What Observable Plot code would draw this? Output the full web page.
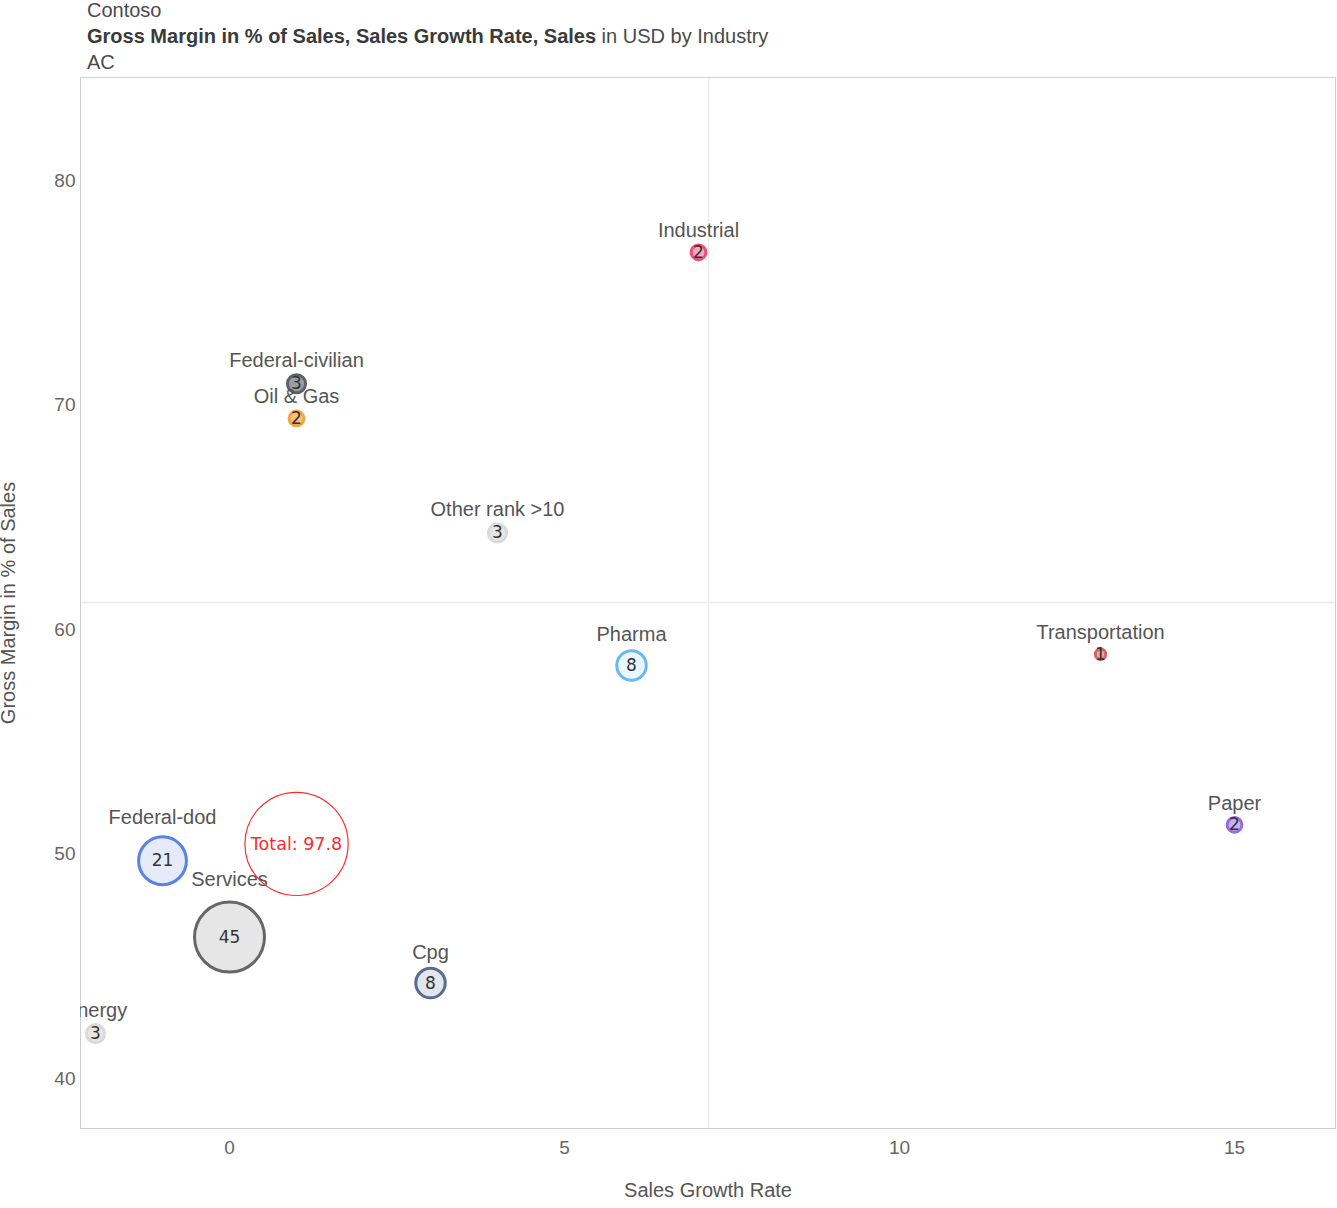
<!DOCTYPE html>
<html>
<head>
<meta charset="utf-8">
<script src="https://cdn.jsdelivr.net/npm/d3@7"></script>
<script src="https://cdn.jsdelivr.net/npm/@observablehq/plot@0.6"></script>
<style>
  body { margin: 0; background: #fff; font-family: "Liberation Sans", Arial, sans-serif; }
  #head { height: 75px; padding-left: 87px; color: #4a4a4a; font-size: 20px; overflow: visible; }
  #head .lines { transform: translateY(-3px); }
  #head .lines div { line-height: 26px; white-space: nowrap; }
  #head b { color: #3a3a3a; }
  #chart svg { display: block; }
</style>
</head>
<body>
<div id="head">
  <div class="lines">
    <div>Contoso</div>
    <div><b>Gross Margin in % of Sales, Sales Growth Rate, Sales</b> in USD by Industry</div>
    <div>AC</div>
  </div>
</div>
<div id="chart"></div>
<script>
// Industries: sales growth rate (x), gross margin in % of sales (y), sales in USD (bubble size)
const industries  = ["Industrial", "Federal-civilian", "Oil & Gas", "Other rank >10", "Pharma", "Transportation", "Paper", "Federal-dod", "Services", "Cpg", "Energy"];
const growthRate  = [7, 1, 1, 4, 6, 13, 15, -1, 0, 3, -2];
const grossMargin = [76.8, 70.95, 69.4, 64.3, 58.4, 58.9, 51.3, 49.7, 46.3, 44.25, 42.0];
const sales       = [2, 3, 2, 3, 8, 1, 2, 21, 45, 8, 3];
const strokeColors = ["#ee4f78", "#5c616c", "#f2a444", "#d9d9d9", "#6ab9f2", "#d46464", "#9a6ae4", "#5a83e2", "#666666", "#586c8c", "#d9d9d9"];
const fillColors   = ["#f7a9bc", "#9a9ea6", "#f6c27e", "#e6e6e6", "#eaf5fd", "#e6a9a9", "#c9b2f1", "#e5ebfa", "#e6e6e6", "#e1e5ec", "#e6e6e6"];

// Total bubble
const totalSales  = 97.8;
const totalGrowth = 1.0;
const totalMargin = 50.45;

// Reference lines splitting the quadrants
const growthReference = 7.15;
const marginReference = 61.2;

const xTicks = [0, 5, 10, 15];
const yTicks = [40, 50, 60, 70, 80];

const rows = industries.map((name, i) => ({
  name, growth: growthRate[i], margin: grossMargin[i], sales: sales[i],
  stroke: strokeColors[i], fill: fillColors[i]
}));
const total = [{growth: totalGrowth, margin: totalMargin, sales: totalSales}];

const rOptions = {type: "sqrt", domain: [0, totalSales], range: [0, 51.6]};
const rScale = Plot.scale({r: rOptions});

// Industry names sit above each bubble, further up the larger the bubble
const nameMarks = rows.map(d => Plot.text([d], {
  x: "growth", y: "margin", text: "name",
  dy: -(1.33 * Math.max(rScale.apply(d.sales), 8) + 11),
  fill: "#555", fontSize: 20, fontFamily: "Liberation Sans, Arial, sans-serif",
  clip: true
}));

const chart = Plot.plot({
  width: 1337,
  height: 1133,
  marginTop: 2,
  marginLeft: 80,
  marginRight: 2,
  marginBottom: 80,
  style: {fontFamily: "Liberation Sans, Arial, sans-serif", background: "#fff"},
  x: {domain: [-2.224, 16.507], ticks: xTicks, tickSize: 0, tickPadding: 12, label: null},
  y: {domain: [37.773, 84.588], ticks: yTicks, tickSize: 0, tickPadding: 5, label: null},
  r: rOptions,
  marks: [
    Plot.ruleX([growthReference], {stroke: "#ececec", strokeWidth: 1.5}),
    Plot.ruleY([marginReference], {stroke: "#ececec", strokeWidth: 1.5}),
    Plot.frame({stroke: "#cfcfcf"}),
    Plot.axisX({ticks: xTicks, tickSize: 0, tickPadding: 12, fontSize: 19, color: "#666", label: null}),
    Plot.axisY({ticks: yTicks, tickSize: 0, tickPadding: 5, fontSize: 19, color: "#666", label: null}),
    Plot.text(["Sales Growth Rate"], {frameAnchor: "bottom", lineAnchor: "middle", textAnchor: "middle", dy: 62, fontSize: 20, fill: "#555"}),
    Plot.text(["Gross Margin in % of Sales"], {frameAnchor: "left", lineAnchor: "middle", textAnchor: "middle", dx: -72, rotate: -90, fontSize: 20, fill: "#555"}),
    Plot.dot(rows, {
      x: "growth", y: "margin", r: "sales",
      fill: "fill", stroke: "stroke", strokeWidth: 3
    }),
    ...nameMarks,
    Plot.text(rows, {
      x: "growth", y: "margin", text: d => String(d.sales),
      fill: "#333", fontSize: 17, fontFamily: "DejaVu Sans, sans-serif"
    }),
    Plot.dot(total, {x: "growth", y: "margin", r: "sales", stroke: "#ff2a2a", strokeWidth: 1.2, fill: "none"}),
    Plot.text(total, {
      x: "growth", y: "margin", text: d => `Total: ${d.sales}`,
      fill: "#ff2a2a", fontSize: 17.5, fontFamily: "DejaVu Sans, sans-serif"
    })
  ]
});

document.getElementById("chart").appendChild(chart);
</script>
</body>
</html>
